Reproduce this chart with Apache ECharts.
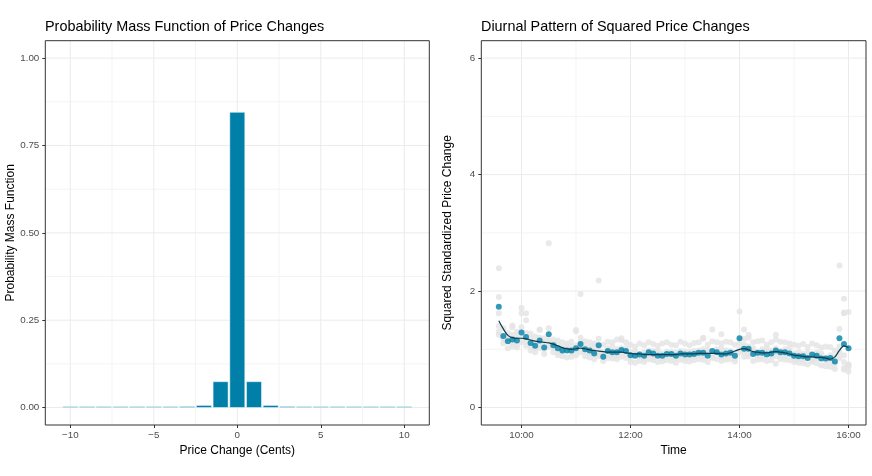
<!DOCTYPE html>
<html>
<head>
<meta charset="utf-8">
<script src="https://cdn.jsdelivr.net/npm/echarts@6/dist/echarts.min.js"></script>
<style>html,body{margin:0;padding:0;background:#fff}#c{width:872px;height:476px}</style>
</head>
<body>
<div id="c"></div>
<script>
// ---------- Left panel: PMF of price changes ----------
const priceChanges = [-10,-9,-8,-7,-6,-5,-4,-3,-2,-1,0,1,2,3,4,5,6,7,8,9,10];
const pmfValues = [0.0025,0.0025,0.0025,0.0025,0.0025,0.0025,0.0025,0.003,0.006,0.074,0.845,0.074,0.006,0.003,0.0025,0.0025,0.0025,0.0025,0.0025,0.0025,0.0025];
const pmfXTicks = [-10,-5,0,5,10];
const pmfXMinor = [-7.5,-2.5,2.5,7.5];
const pmfYTicks = [0,0.25,0.5,0.75,1.0];
const pmfYMinor = [0.125,0.375,0.625,0.875];

// ---------- Right panel: diurnal pattern ----------
const times = ["09:35","09:40","09:45","09:50","09:55",
"10:00","10:05","10:10","10:15","10:20","10:25","10:30","10:35","10:40","10:45","10:50","10:55",
"11:00","11:05","11:10","11:15","11:20","11:25","11:30","11:35","11:40","11:45","11:50","11:55",
"12:00","12:05","12:10","12:15","12:20","12:25","12:30","12:35","12:40","12:45","12:50","12:55",
"13:00","13:05","13:10","13:15","13:20","13:25","13:30","13:35","13:40","13:45","13:50","13:55",
"14:00","14:05","14:10","14:15","14:20","14:25","14:30","14:35","14:40","14:45","14:50","14:55",
"15:00","15:05","15:10","15:15","15:20","15:25","15:30","15:35","15:40","15:45","15:50","15:55",
"16:00"];
const meanSq = [1.73,1.23,1.14,1.17,1.15,1.29,1.21,1.11,1.06,1.15,1.03,1.26,1.07,1.02,0.98,0.98,0.98,1.02,1.09,1.00,0.98,0.93,1.07,0.87,0.97,0.95,0.95,0.99,0.97,0.90,0.89,0.91,0.89,0.95,0.93,0.89,0.89,0.92,0.92,0.89,0.93,0.91,0.91,0.92,0.94,0.94,0.89,0.97,0.95,0.91,0.93,0.94,0.89,1.19,1.01,1.01,0.92,0.94,0.94,0.91,0.93,0.98,0.95,0.95,0.93,0.89,0.88,0.88,0.85,0.91,0.89,0.84,0.84,0.85,0.79,1.19,1.09,1.02];
const smoothSq = [1.49,1.35,1.24,1.20,1.19,1.19,1.18,1.16,1.14,1.13,1.12,1.11,1.09,1.06,1.03,1.01,1.00,1.01,1.02,1.01,0.99,0.98,0.97,0.96,0.95,0.95,0.95,0.95,0.94,0.93,0.92,0.92,0.91,0.91,0.91,0.91,0.91,0.91,0.91,0.91,0.92,0.92,0.92,0.92,0.93,0.93,0.93,0.93,0.93,0.92,0.92,0.94,0.97,1.00,1.01,0.99,0.96,0.95,0.94,0.94,0.95,0.96,0.95,0.94,0.92,0.90,0.89,0.88,0.87,0.87,0.86,0.86,0.85,0.83,0.87,0.98,1.06,1.03];
const dayUpper = [1.62,1.36,1.28,1.38,1.30,1.62,1.50,1.27,1.22,1.33,1.19,1.36,1.17,1.15,1.12,1.10,1.13,1.33,1.20,1.14,1.12,1.10,1.18,1.08,1.13,1.12,1.17,1.16,1.12,1.08,1.05,1.10,1.07,1.12,1.09,1.06,1.10,1.12,1.08,1.07,1.13,1.10,1.07,1.11,1.12,1.20,1.08,1.14,1.12,1.10,1.13,1.12,1.08,1.65,1.18,1.20,1.12,1.14,1.15,1.08,1.12,1.17,1.13,1.12,1.10,1.08,1.06,1.09,1.04,1.10,1.07,1.03,1.05,1.04,0.98,1.35,1.62,1.64];
const dayLower = [1.25,1.10,1.02,1.05,1.03,1.12,1.06,0.98,0.95,1.02,0.92,1.05,0.95,0.90,0.88,0.86,0.87,0.90,0.95,0.88,0.86,0.83,0.92,0.80,0.85,0.84,0.83,0.87,0.85,0.78,0.77,0.80,0.78,0.83,0.81,0.78,0.79,0.81,0.80,0.77,0.82,0.80,0.79,0.81,0.83,0.82,0.78,0.85,0.83,0.80,0.82,0.83,0.79,0.95,0.87,0.88,0.80,0.82,0.83,0.80,0.81,0.75,0.83,0.82,0.81,0.78,0.77,0.76,0.74,0.78,0.76,0.72,0.71,0.70,0.66,0.85,0.68,0.62];
const dayMiddle = [1.40,1.20,1.18,1.10,1.22,1.38,1.15,1.05,1.12,1.08,1.10,1.15,1.02,1.08,1.03,1.05,0.94,1.06,1.04,0.96,1.03,0.97,1.00,0.93,1.02,0.90,1.00,0.93,1.02,0.95,0.93,0.86,0.95,0.90,0.97,0.93,0.85,0.96,0.87,0.94,0.88,0.96,0.86,0.97,0.90,1.00,0.94,0.92,1.00,0.87,0.98,0.90,0.95,1.10,0.96,1.05,0.97,0.89,1.00,0.96,0.89,1.02,0.90,1.00,0.96,0.93,0.84,0.92,0.90,0.86,0.94,0.88,0.80,0.90,0.75,1.05,0.90,0.73];
const dayFourth = [1.30,1.18,1.22,1.25,1.08,1.20,1.28,1.18,1.02,1.20,1.00,1.12,1.10,0.95,0.96,1.00,1.05,0.98,1.12,1.05,0.93,1.05,0.88,0.95,0.90,1.05,0.88,1.02,0.92,0.85,0.97,0.92,0.84,0.98,0.86,0.98,0.93,0.87,0.95,0.86,0.97,0.85,0.95,0.87,0.98,0.88,0.99,0.88,0.95,1.02,0.88,0.97,0.85,1.00,1.08,0.93,1.02,0.95,0.88,1.02,0.98,0.88,0.97,0.88,1.02,0.84,0.95,0.82,0.95,0.82,0.85,0.93,0.86,0.78,0.88,0.95,0.78,0.70];
const dayOutliers = [["09:35",2.39],["09:35",1.90],["09:50",1.41],["10:00",1.71],["10:05",1.62],["10:20",1.34],["10:30",2.82],["11:00",1.31],["11:05",1.95],["11:25",2.18],["11:50",1.19],["13:20",1.18],["13:30",1.34],["13:40",1.26],["14:05",1.34],["14:10",1.25],["14:40",1.25],["15:50",2.44],["15:55",1.87],["15:55",1.63],["16:00",0.74],["15:55",0.65]];
const timeTicks = ["10:00","12:00","14:00","16:00"];
const timeMinor = ["11:00","13:00","15:00"];
const sqYTicks = [0,2,4,6];
const sqYMinor = [1,3,5];

const toMin = s => { const p = s.split(':'); return (+p[0]) * 60 + (+p[1]); };
const fmtTime = v => { const h = Math.floor(v / 60), m = Math.round(v % 60); return (h < 10 ? '0' + h : h) + ':' + (m < 10 ? '0' + m : m); };

const FONT = 'Liberation Sans, Arial, Helvetica, sans-serif';
const BLUE = '#0080A8';
const GRAY_PT = '#e4e4e4';
const MAJOR = '#ebebeb';
const MINOR = '#f4f4f4';

const tStart = toMin(times[0]), tEnd = toMin(times[times.length - 1]);
const tPad = 0.05 * (tEnd - tStart);
const ranges = [
  {x: [-11.5, 11.5], y: [-0.05, 1.05]},
  {x: [tStart - tPad, tEnd + tPad], y: [-0.3, 6.3]}
];

function gridSeries(idx, xMaj, xMin, yMaj, yMin) {
  const out = [];
  const r = ranges[idx];
  const mk = (pts, color) => ({type: 'line', xAxisIndex: idx, yAxisIndex: idx, z: 1, silent: true,
    symbol: 'none', showSymbol: false, animation: false, lineStyle: {color: color, width: 1}, data: pts});
  xMin.forEach(v => out.push(mk([[v, r.y[0]], [v, r.y[1]]], MINOR)));
  yMin.forEach(v => out.push(mk([[r.x[0], v], [r.x[1], v]], MINOR)));
  xMaj.forEach(v => out.push(mk([[v, r.y[0]], [v, r.y[1]]], MAJOR)));
  yMaj.forEach(v => out.push(mk([[r.x[0], v], [r.x[1], v]], MAJOR)));
  return out;
}

const axisCommon = {
  axisLine: {show: false, onZero: false},
  axisTick: {show: true, length: 3, lineStyle: {color: '#333', width: 1}},
  splitLine: {show: false},
  axisLabel: {color: '#4d4d4d', fontSize: 9.8, fontFamily: FONT},
  nameTextStyle: {color: '#000', fontSize: 12, fontFamily: FONT},
  nameLocation: 'middle'
};

const timeMins = times.map(toMin);
const grayPts = [];
[dayUpper, dayLower, dayMiddle, dayFourth].forEach(arr => arr.forEach((v, i) => grayPts.push([timeMins[i], v])));
dayOutliers.forEach(o => grayPts.push([toMin(o[0]), o[1]]));

const chart = echarts.init(document.getElementById('c'), null, {renderer: 'canvas'});
chart.setOption({
  animation: false,
  backgroundColor: '#fff',
  title: [
    {text: 'Probability Mass Function of Price Changes', left: 45, top: 20, padding: 0,
     textStyle: {fontSize: 14.4, fontWeight: 'normal', color: '#000', fontFamily: FONT}},
    {text: 'Diurnal Pattern of Squared Price Changes', left: 481, top: 20, padding: 0,
     textStyle: {fontSize: 14.4, fontWeight: 'normal', color: '#000', fontFamily: FONT}}
  ],
  grid: [
    {left: 45.3, right: 442.7, top: 40.7, bottom: 51, show: true, borderColor: '#333', borderWidth: 1, backgroundColor: 'transparent', z: 5},
    {left: 481.3, right: 6, top: 40.7, bottom: 51, show: true, borderColor: '#333', borderWidth: 1, backgroundColor: 'transparent', z: 5}
  ],
  xAxis: [
    Object.assign({}, axisCommon, {gridIndex: 0, type: 'value', min: ranges[0].x[0], max: ranges[0].x[1],
      name: 'Price Change (Cents)', nameGap: 17,
      axisTick: Object.assign({}, axisCommon.axisTick, {customValues: pmfXTicks}),
      axisLabel: Object.assign({}, axisCommon.axisLabel, {margin: 5, customValues: pmfXTicks,
        formatter: v => (v < 0 ? '\u2212' + Math.abs(v) : '' + v)})}),
    Object.assign({}, axisCommon, {gridIndex: 1, type: 'value', min: ranges[1].x[0], max: ranges[1].x[1],
      name: 'Time', nameGap: 17,
      axisTick: Object.assign({}, axisCommon.axisTick, {customValues: timeTicks.map(toMin)}),
      axisLabel: Object.assign({}, axisCommon.axisLabel, {margin: 5, customValues: timeTicks.map(toMin), formatter: fmtTime})})
  ],
  yAxis: [
    Object.assign({}, axisCommon, {gridIndex: 0, type: 'value', min: ranges[0].y[0], max: ranges[0].y[1],
      name: 'Probability Mass Function', nameGap: 28,
      axisTick: Object.assign({}, axisCommon.axisTick, {customValues: pmfYTicks}),
      axisLabel: Object.assign({}, axisCommon.axisLabel, {margin: 6, customValues: pmfYTicks, formatter: v => v.toFixed(2)})}),
    Object.assign({}, axisCommon, {gridIndex: 1, type: 'value', min: ranges[1].y[0], max: ranges[1].y[1],
      name: 'Squared Standardized Price Change', nameGap: 28,
      axisTick: Object.assign({}, axisCommon.axisTick, {customValues: sqYTicks}),
      axisLabel: Object.assign({}, axisCommon.axisLabel, {margin: 6, customValues: sqYTicks, formatter: v => '' + v})})
  ],
  series: [].concat(
    gridSeries(0, pmfXTicks, pmfXMinor, pmfYTicks, pmfYMinor),
    gridSeries(1, timeTicks.map(toMin), timeMinor.map(toMin), sqYTicks, sqYMinor),
    [
    {type: 'custom', xAxisIndex: 0, yAxisIndex: 0, z: 2, silent: true,
     data: priceChanges.map((x, i) => [x, pmfValues[i]]),
     renderItem: function (params, api) {
       const x = api.value(0), y = api.value(1);
       const p0 = api.coord([x - 0.45, y]);
       const p1 = api.coord([x + 0.45, 0]);
       return {type: 'rect', shape: {x: p0[0], y: p0[1], width: p1[0] - p0[0], height: p1[1] - p0[1]},
               style: {fill: BLUE, stroke: '#fff', lineWidth: 0.5}};
     }},
    {type: 'scatter', xAxisIndex: 1, yAxisIndex: 1, z: 2, symbolSize: 6,
     itemStyle: {color: GRAY_PT}, data: grayPts, silent: true},
    {type: 'scatter', xAxisIndex: 1, yAxisIndex: 1, z: 3, symbolSize: 6,
     itemStyle: {color: BLUE}, data: timeMins.map((t, i) => [t, meanSq[i]]), silent: true},
    {type: 'line', xAxisIndex: 1, yAxisIndex: 1, z: 4, smooth: 0.4, showSymbol: false, symbol: 'none',
     lineStyle: {color: '#0d3d4d', width: 1.2}, data: timeMins.map((t, i) => [t, smoothSq[i]]), silent: true}
    ])
});
</script>
</body>
</html>
